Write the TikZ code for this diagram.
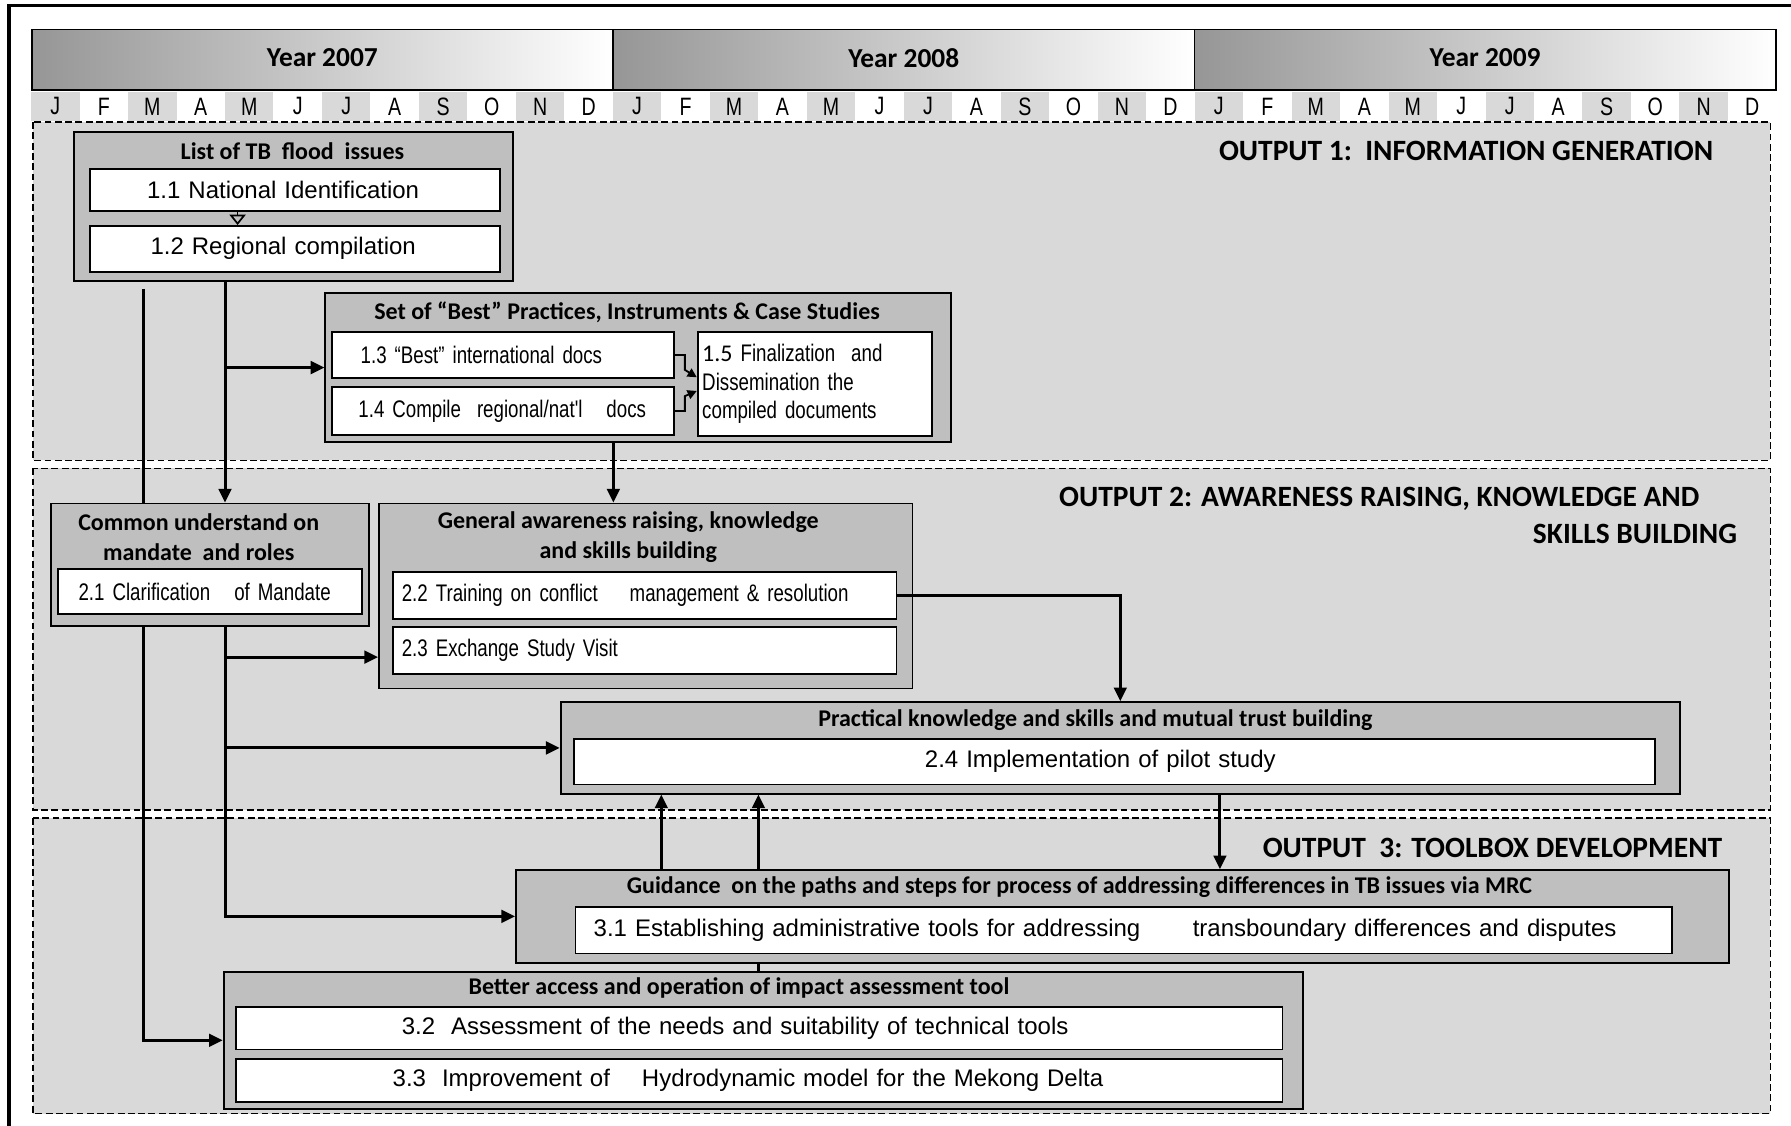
\documentclass[tikz,border=0pt]{standalone}
\usepackage{fontspec}
\setmainfont{Liberation Sans}
\newfontfamily\hdrfont{Carlito}
\newfontfamily\narrowfont[FakeStretch=0.78]{Liberation Sans}
\usetikzlibrary{arrows.meta,positioning,calc}
\definecolor{boxgrey}{RGB}{191,191,191}
\definecolor{areagrey}{RGB}{217,217,217}
\definecolor{bargrey}{RGB}{150,150,150}
\tikzset{
	grp/.style={draw, line width=1.6pt, fill=boxgrey, anchor=north west, inner sep=0pt},
	item/.style={draw, line width=1.6pt, fill=white, anchor=north west, inner sep=0pt, font=\fontsize{21}{25}\selectfont},
	iteml/.style={item, align=left},
	itemn/.style={item, align=left, font=\narrowfont\fontsize{21}{25}\selectfont},
	hdr/.style={inner sep=0pt, align=center, font=\hdrfont\bfseries\fontsize{21}{26}\selectfont},
	outtitle/.style={inner sep=0pt, align=right, font=\hdrfont\bfseries\fontsize{25.8}{33}\selectfont},
	area/.style={draw, line width=1.4pt, dash pattern=on 6pt off 3pt, fill=areagrey},
	yearbar/.style={draw, line width=1.5pt, left color=bargrey, right color=white, anchor=north west, minimum width=509pt, minimum height=53pt, inner sep=0pt, font=\hdrfont\bfseries\fontsize{24}{28}\selectfont},
	month/.style={anchor=north west, minimum width=42.44pt, minimum height=26pt, inner sep=0pt, font=\narrowfont\fontsize{22}{26}\selectfont},
	ln/.style={line width=2.6pt},
	arr/.style={line width=2.6pt, -{Triangle[length=12pt,width=11pt]}},
	arrs/.style={line width=1.6pt, -{Triangle[length=8pt,width=8pt]}}
}

\begin{document}
\begin{tikzpicture}[x=1pt, y=-1pt]
	\useasboundingbox (0,0) rectangle (1568,985);
	\fill[white] (0,0) rectangle (1568,985);
	\draw[line width=3pt] (8,1100) -- (8,5) -- (1700,5);
	%
	\node[yearbar] (y07) at (27,25) {\raisebox{3pt}{Year 2007}};
	\node[yearbar] (y08) at (536,25) {\raisebox{3pt}{Year 2008}};
	\node[yearbar] (y09) at (1045,25) {\raisebox{3pt}{Year 2009}};
	\foreach \mon [count=\i] in {J,F,M,A,M,J,J,A,S,O,N,D,J,F,M,A,M,J,J,A,S,O,N,D,J,F,M,A,M,J,J,A,S,O,N,D} {
		\pgfmathsetmacro{\monx}{27+(\i-1)*42.444}
		\pgfmathtruncatemacro{\mshade}{100*mod(\i,2)}
		\node[month, fill=areagrey!\mshade!white] (m\i) at (\monx,80) {\mon};
	}
	%
	\draw[area] (29,107) rectangle (1550,403);
	\draw[area] (29,410) rectangle (1550,709);
	\draw[area] (29,716) rectangle (1550,975);
	\node[outtitle, anchor=east] (o1) at (1500,132) {OUTPUT 1:\ \ INFORMATION GENERATION};
	\node[outtitle, anchor=north east] (o2) at (1521,426) {OUTPUT 2: AWARENESS RAISING, KNOWLEDGE AND\hspace*{33pt}\\SKILLS BUILDING};
	\node[outtitle, anchor=east] (o3) at (1508,742) {OUTPUT\ \ 3: TOOLBOX DEVELOPMENT};
	%
	\node[grp, minimum width=384pt, minimum height=130pt] (g11) at (64,115) {};
	\node[hdr] (t11) at (256,132) {List of TB\ \ flood\ \ issues};
	\node[iteml, text width=259pt, inner xsep=50pt, minimum height=37pt] (n11) at (78,147) {1.1 National Identification};
	\node[iteml, text width=253pt, inner xsep=53pt, minimum height=40pt] (n12) at (78,197) {1.2 Regional compilation};
	\draw[line width=1.5pt, -{Triangle[open,length=9pt,width=14pt]}] (n11.south -| 208,0) -- (n12.north -| 208,0);
	%
	\node[grp, minimum width=548pt, minimum height=130pt] (g12) at (284,256) {};
	\node[hdr] (t12) at (549,273) {Set of “Best” Practices, Instruments \& Case Studies};
	\node[itemn, text width=249pt, inner xsep=25pt, minimum height=40pt] (n13) at (290,290) {1.3 “Best” international docs};
	\node[itemn, text width=253pt, inner xsep=23pt, minimum height=42pt] (n14) at (290,338) {\mbox{1.4 Compile\ \ regional/nat'l\ \ \ docs}};
	\node[itemn, text width=197pt, inner xsep=4pt, minimum height=91pt] (n15) at (610,290) {{\hdrfont 1.5} Finalization\ \ and\\Dissemination the\\compiled documents};
	\draw[arrs] (n13.east) -- ++(9,0) -- ++(0,13) -- ([yshift=6pt]n15.west);
	\draw[arrs] (n14.east) -- ++(9,0) -- ++(0,-13) -- ([yshift=-6pt]n15.west);
	%
	\node[grp, minimum width=278pt, minimum height=107pt] (g21) at (44,440) {};
	\node[hdr] (t21) at (174,470) {Common understand on\\mandate\ \ and roles};
	\node[itemn, text width=230pt, inner xsep=18pt, minimum height=40pt] (n21) at (50,497) {2.1 Clarification\ \ \ of Mandate};
	%
	\node[grp, minimum width=467pt, minimum height=162pt] (g22) at (331,440) {};
	\node[hdr] (t22) at (550,470) {General awareness raising, knowledge\\and skills building};
	\node[itemn, text width=425pt, inner xsep=8pt, minimum height=41pt] (n22) at (343,500) {2.2\ Training on conflict\ \ \ \ management \& resolution};
	\node[itemn, text width=425pt, inner xsep=8pt, minimum height=41pt] (n23) at (343,548) {2.3\ Exchange Study Visit};
	%
	\node[grp, minimum width=980pt, minimum height=80pt] (g23) at (490,614) {};
	\node[hdr] (t23) at (959,630) {Practical knowledge and skills and mutual trust building};
	\node[iteml, text width=332pt, inner xsep=307pt, minimum height=40pt] (n24) at (502,646) {2.4 Implementation of pilot study};
	%
	\node[grp, minimum width=1062pt, minimum height=81pt] (g31) at (451,761) {};
	\node[hdr] (t31) at (945,777) {Guidance\ \ on the paths and steps for process of addressing differences in TB issues via MRC};
	\node[iteml, text width=928pt, inner xsep=16pt, minimum height=41pt] (n31) at (503,793) {3.1 Establishing administrative tools for addressing\hspace{46pt}transboundary differences and disputes};
	%
	\node[grp, minimum width=945pt, minimum height=120pt] (g32) at (195,850) {};
	\node[hdr] (t32) at (647,865) {Better access and operation of impact assessment tool};
	\node[iteml, text width=626pt, inner xsep=145pt, minimum height=37pt] (n32) at (206,881) {3.2\ \ Assessment of the needs and suitability of technical tools};
	\node[iteml, text width=642pt, inner xsep=137pt, minimum height=38pt] (n33) at (206,926) {3.3\ \ Improvement of\ \ \ \ Hydrodynamic model for the Mekong Delta};
	%
	\coordinate (xa) at (126,0);
	\coordinate (xb) at (197,0);
	\coordinate (xc) at (537,0);
	\coordinate (xd) at (1068,0);
	\coordinate (xe) at (579,0);
	\coordinate (xf) at (664,0);
	\coordinate (a0) at (126,253);
	\draw[ln] (a0) -- (g21.north -| xa);
	\draw[arr] (g11.south -| xb) -- (g21.north -| xb);
	\draw[arr] (g11.south -| xb) |- (g12.west);
	\draw[arr] (g12.south -| xc) -- (g22.north -| xc);
	\draw[arr] (g21.south -| xa) |- (g32.west);
	\draw[arr] (g21.south -| xb) |- (g31.west);
	\draw[arr] (g21.south -| xb) |- ([yshift=-6pt]g22.west |- n23.west);
	\draw[arr] (g21.south -| xb) |- (g23.west);
	\draw[arr] (n22.east) -| (g23.north);
	\draw[arr] (g23.south -| xd) -- (g31.north -| xd);
	\draw[arr] (g31.north -| xe) -- (g23.south -| xe);
	\draw[arr] (g31.north -| xf) -- (g23.south -| xf);
	\draw[ln] (g31.south -| xf) -- (g32.north -| xf);
\end{tikzpicture}
\end{document}
